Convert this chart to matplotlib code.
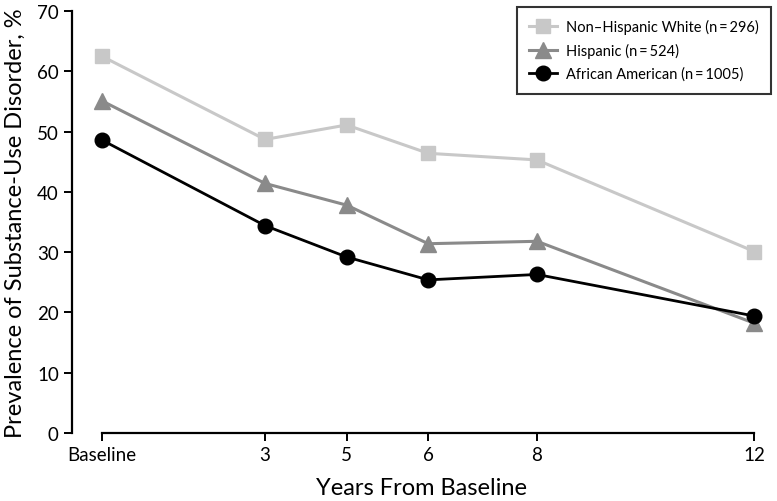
import matplotlib
matplotlib.use("Agg")
import matplotlib.pyplot as plt

plt.rcParams['font.family'] = ['Lato', 'DejaVu Sans']

# years from baseline (visit 5 plotted at 4.5 as in the original layout)
years = [0, 3, 4.5, 6, 8, 12]
year_labels = ['Baseline', '3', '5', '6', '8', '12']

white = [62.5, 48.7, 51.1, 46.4, 45.3, 30.1]
hispanic = [55.1, 41.4, 37.8, 31.4, 31.8, 18.2]
african_american = [48.6, 34.4, 29.2, 25.4, 26.3, 19.4]

fig = plt.figure(figsize=(7.77, 5.02), dpi=100)
ax = fig.add_axes([0.0927, 0.1355, 0.8993, 0.8405])

ax.plot(years, white, color='#c8c8c8', lw=2.2, marker='s', ms=10,
        label='Non\u2013Hispanic White (n\u2009=\u2009296)', clip_on=False)
ax.plot(years, hispanic, color='#8a8a8a', lw=2.2, marker='^', ms=11,
        label='Hispanic (n\u2009=\u2009524)', clip_on=False)
ax.plot(years, african_american, color='black', lw=2.0, marker='o', ms=10.5,
        label='African American (n\u2009=\u20091005)', clip_on=False)

ax.set_xlim(-0.55, 12.3)
ax.set_ylim(0, 70)
ax.set_xticks(years)
ax.set_xticklabels(year_labels)
ax.set_yticks(range(0, 71, 10))

for s in ['top', 'right']:
    ax.spines[s].set_visible(False)
ax.spines['bottom'].set_bounds(0, 12)
ax.spines['left'].set_bounds(0, 70)
ax.spines['bottom'].set_linewidth(1.6)
ax.spines['left'].set_linewidth(1.6)
ax.tick_params(axis='both', width=1.4, length=6, labelsize=13.5)

ax.set_xlabel('Years From Baseline', fontsize=17, labelpad=10)
ax.set_ylabel('Prevalence of Substance-Use Disorder, %', fontsize=17, labelpad=8)

leg = ax.legend(loc='upper right', bbox_to_anchor=(1.0, 1.01), borderaxespad=0,
                fancybox=False, edgecolor='black', fontsize=10.5, borderpad=0.85,
                handlelength=1.9, handletextpad=0.6, labelspacing=0.6)
leg.get_frame().set_linewidth(1.5)

fig.savefig('out.png', dpi=100)
